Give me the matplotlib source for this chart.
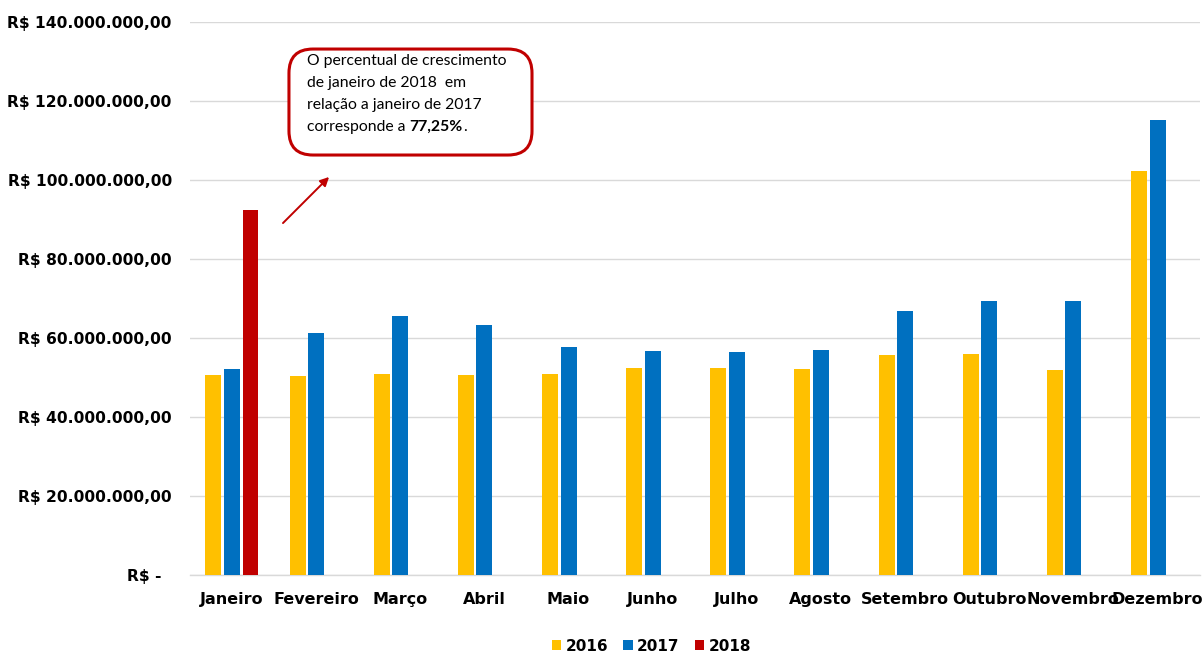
import numpy as np
import matplotlib.pyplot as plt
from matplotlib.patches import FancyBboxPatch
from matplotlib.text import Annotation

# -----------------------------
# DATA (R$)
# -----------------------------
meses = ["Janeiro", "Fevereiro", "Março", "Abril", "Maio", "Junho",
         "Julho", "Agosto", "Setembro", "Outubro", "Novembro", "Dezembro"]

v2016 = [50.6e6, 50.3e6, 50.9e6, 50.6e6, 50.9e6, 52.4e6,
         52.4e6, 52.1e6, 55.7e6, 56.0e6, 51.8e6, 102.4e6]
v2017 = [52.1e6, 61.4e6, 65.7e6, 63.3e6, 57.8e6, 56.6e6,
         56.4e6, 57.0e6, 66.8e6, 69.3e6, 69.5e6, 115.3e6]
v2018 = [92.4e6]

anos = ["2016", "2017", "2018"]
cores = ["#FFC000", "#0070C0", "#C00000"]

yticks = np.arange(0, 140e6 + 1, 20e6)


def fmt_brl(v):
    if v == 0:
        return "R$ -  "
    s = f"{v:,.2f}".replace(",", "X").replace(".", ",").replace("X", ".")
    return "R$ " + s


# -----------------------------
# PLOT
# -----------------------------
plt.rcParams['font.family'] = ['DejaVu Sans']

fig = plt.figure(figsize=(12.02, 6.53), dpi=100)
ax = fig.add_axes([0.158, 0.1194, 0.840, 0.8468])

x = np.arange(len(meses))
step = 0.22
w = 0.19

ax.bar(x - step, v2016, width=w, color=cores[0], label=anos[0], zorder=3)
ax.bar(x, v2017, width=w, color=cores[1], label=anos[1], zorder=3)
ax.bar(x[:len(v2018)] + step, v2018, width=w, color=cores[2], label=anos[2], zorder=3)

ax.set_xlim(-0.5, len(meses) - 0.5)
ax.set_ylim(0, 140e6)
ax.set_yticks(yticks)
ax.set_yticklabels([fmt_brl(v) for v in yticks], fontsize=11.2, fontweight='bold')
ax.set_xticks(x)
ax.set_xticklabels(meses, fontsize=11.5, fontweight='bold')
ax.tick_params(axis='y', length=0, pad=13)
ax.tick_params(axis='x', length=0, pad=12)

ax.grid(axis='y', color='#d9d9d9', linewidth=1, zorder=0)
for s in ['top', 'right', 'left']:
    ax.spines[s].set_visible(False)
ax.spines['bottom'].set_color('#d9d9d9')
ax.spines['bottom'].set_linewidth(1)

# legend
leg = fig.legend(loc='lower center', bbox_to_anchor=(0.542, -0.022), ncol=3,
                 frameon=False, handlelength=0.6, handleheight=0.6,
                 handletextpad=0.3, columnspacing=1.0,
                 prop={'weight': 'bold', 'size': 11})

# callout box
box = FancyBboxPatch((0.2404, 0.7626), 0.2022, 0.1623,
                     boxstyle="round,pad=0,rounding_size=0.02",
                     transform=fig.transFigure, facecolor='white',
                     edgecolor='#C00000', linewidth=2.2, zorder=5,
                     mutation_aspect=1.84)
fig.patches.append(box)

fs = 11.3
linhas = ["O percentual de crescimento",
          "de janeiro de 2018  em",
          "relação a janeiro de 2017"]
tx, ty0, dy = 0.2555, 0.917, 0.0335
for i, l in enumerate(linhas):
    fig.text(tx, ty0 - i * dy, l, fontsize=fs, family='Lato',
             va='top', ha='left', zorder=6)
t1 = fig.text(tx, ty0 - 3 * dy, "corresponde a ", fontsize=fs,
              family='Lato', va='top', ha='left', zorder=6)
t2 = Annotation("77,25%", xy=(1, 0), xycoords=t1, va='bottom', ha='left',
                fontsize=fs, family='Lato', fontweight='bold', zorder=6)
fig.add_artist(t2)
t3 = Annotation(".", xy=(1, 0), xycoords=t2, va='bottom', ha='left',
                fontsize=fs, family='Lato', zorder=6)
fig.add_artist(t3)

# arrow
ax.annotate("", xy=(0.2754, 0.732), xycoords='figure fraction',
            xytext=(0.2338, 0.6554), textcoords='figure fraction',
            arrowprops=dict(arrowstyle='-|>', color='#C00000', lw=1.4,
                            mutation_scale=13))

fig.savefig("out.png", dpi=100)
